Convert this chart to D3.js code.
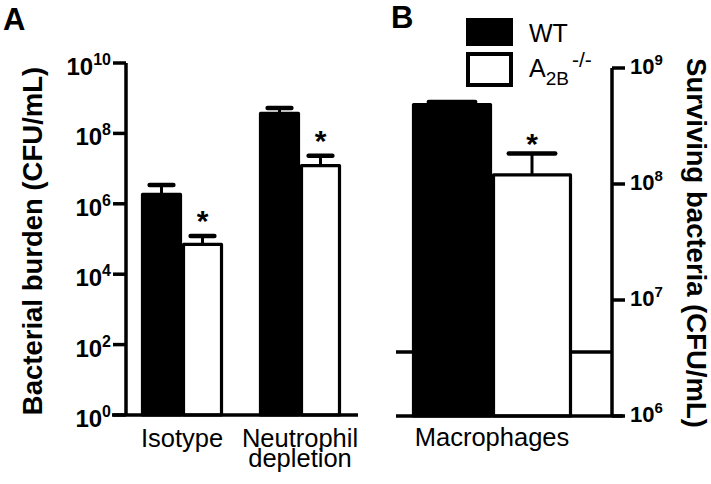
<!DOCTYPE html>
<html><head><meta charset="utf-8">
<script src="https://cdn.jsdelivr.net/npm/d3@7"></script>
<style>
html,body{margin:0;padding:0;background:#fff;}
svg{display:block;font-family:"Liberation Sans",Arial,Helvetica,sans-serif;}
</style></head>
<body>
<svg id="chart" width="711" height="484"></svg>
<script>
// ---- data ----
const seriesNames = ["WT", "A2B-/-"];
const groupsA = ["Isotype", "Neutrophil depletion"];
const wtA = [1.85e6, 3.7e8];
const wtASem = [1.55e6, 1.55e8];
const koA = [7.0e4, 1.22e7];
const koASem = [5.2e4, 1.11e7];
const sigA = [true, true];
const ticksA = [0, 2, 4, 6, 8, 10];

const groupsB = ["Macrophages"];
const wtB = [4.84e8];
const wtBSem = [2.6e7];
const koB = [1.2e8];
const koBSem = [6.3e7];
const sigB = [true];
const ticksB = [6, 7, 8, 9];
const detectionLimitB = 3.56e6;

// ---- setup ----
const svg = d3.select("#chart");
const FONT = "'Liberation Sans',Arial,Helvetica,sans-serif";

function drawPanel(opt) {
  const g = svg.append("g");
  const y = d3.scaleLog().domain(opt.domain).range([opt.y0, opt.y1]);
  const xg = d3.scaleBand().domain(opt.groups).range(opt.xRange).paddingInner(opt.padInner).paddingOuter(0);
  const xs = d3.scaleBand().domain(seriesNames).range([0, xg.bandwidth()]);
  const bw = xs.bandwidth();

  if (opt.limit) {
    g.append("line").attr("x1", opt.baseX[0]).attr("x2", opt.axisX)
      .attr("y1", y(opt.limit)).attr("y2", y(opt.limit))
      .attr("stroke", "#000").attr("stroke-width", 3.5);
  }

  const rows = [];
  opt.groups.forEach((grp, i) => {
    rows.push({grp, s: seriesNames[0], v: opt.wt[i], sem: opt.wtSem[i], fill: "#000", sig: false});
    rows.push({grp, s: seriesNames[1], v: opt.ko[i], sem: opt.koSem[i], fill: "#fff", sig: opt.sig[i]});
  });

  const baseY = opt.y0;
  rows.forEach(r => {
    const cx = xg(r.grp) + xs(r.s) + bw / 2;
    g.append("line").attr("x1", cx).attr("x2", cx)
      .attr("y1", y(r.v)).attr("y2", y(r.v + r.sem))
      .attr("stroke", "#000").attr("stroke-width", 3);
    g.append("line").attr("x1", cx - bw * 0.29).attr("x2", cx + bw * 0.29)
      .attr("y1", y(r.v + r.sem)).attr("y2", y(r.v + r.sem))
      .attr("stroke", "#000").attr("stroke-width", 4.5).attr("stroke-linecap", "round");
    if (r.sig) {
      g.append("text").attr("x", cx).attr("y", y(r.v + r.sem) - opt.starGap)
        .attr("text-anchor", "middle").attr("font-weight", "bold")
        .attr("font-size", 30).attr("font-family", FONT).text("*");
    }
  });
  rows.forEach(r => {
    g.append("rect")
      .attr("x", xg(r.grp) + xs(r.s) + 1.5).attr("width", bw - 3)
      .attr("y", y(r.v)).attr("height", baseY - y(r.v))
      .attr("fill", r.fill).attr("stroke", "#000").attr("stroke-width", 3.2)
      .attr("stroke-linejoin", "round");
  });

  g.append("line").attr("x1", opt.baseX[0]).attr("x2", opt.baseX[1])
    .attr("y1", baseY).attr("y2", baseY).attr("stroke", "#000").attr("stroke-width", 3.5);
  g.append("line").attr("x1", opt.axisX).attr("x2", opt.axisX)
    .attr("y1", opt.y1).attr("y2", opt.y0).attr("stroke", "#000").attr("stroke-width", 3.5);
  opt.ticks.forEach(e => {
    const ty = y(Math.pow(10, e));
    g.append("line").attr("x1", opt.axisX).attr("x2", opt.axisX + opt.tickDir * 13)
      .attr("y1", ty).attr("y2", ty).attr("stroke", "#000").attr("stroke-width", 3.5);
    const t = g.append("text")
      .attr("x", opt.axisX + opt.tickDir * opt.labelOff)
      .attr("y", ty + opt.labelDy)
      .attr("text-anchor", opt.tickDir < 0 ? "end" : "start")
      .attr("font-weight", "bold").attr("font-family", FONT).attr("font-size", opt.tickFont);
    t.append("tspan").text("10");
    t.append("tspan").attr("dy", -opt.supRaise).attr("font-size", opt.supFont).text(String(e));
  });

  opt.groups.forEach((grp, i) => {
    const cx = xg(grp) + xg.bandwidth() / 2;
    const t = g.append("text").attr("x", cx).attr("y", opt.catY)
      .attr("text-anchor", "middle").attr("font-size", 25.5).attr("font-family", FONT);
    opt.labelLines[i].forEach((ln, j) => {
      t.append("tspan").attr("x", cx).attr("dy", j === 0 ? 0 : 20).text(ln);
    });
  });
  return g;
}

drawPanel({
  groups: groupsA, wt: wtA, wtSem: wtASem, ko: koA, koSem: koASem, sig: sigA,
  domain: [1, 1e10], y0: 415, y1: 63,
  xRange: [141, 341], padInner: 0.305,
  baseX: [112, 358], axisX: 126, tickDir: -1, labelOff: 15, labelDy: 12,
  tickFont: 24, supFont: 16, supRaise: 10,
  ticks: ticksA, starGap: 5, catY: 447,
  labelLines: [["Isotype"], ["Neutrophil", "depletion"]]
});

drawPanel({
  groups: groupsB, wt: wtB, wtSem: wtBSem, ko: koB, koSem: koBSem, sig: sigB,
  domain: [1e6, 1e9], y0: 416, y1: 68, limit: detectionLimitB,
  xRange: [412, 572], padInner: 0,
  baseX: [396, 623], axisX: 612, tickDir: 1, labelOff: 18, labelDy: 6,
  tickFont: 22, supFont: 15, supRaise: 9,
  ticks: ticksB, starGap: 0, catY: 446,
  labelLines: [["Macrophages"]]
});

svg.append("text").attr("transform", "translate(42,241) rotate(-90)")
  .attr("text-anchor", "middle").attr("font-weight", "bold").attr("font-size", 27.5)
  .attr("font-family", FONT).text("Bacterial burden (CFU/mL)");
svg.append("text").attr("transform", "translate(687,243) rotate(90)")
  .attr("text-anchor", "middle").attr("font-weight", "bold").attr("font-size", 27.5)
  .attr("font-family", FONT).text("Surviving bacteria (CFU/mL)");

svg.append("text").attr("x", 3).attr("y", 30).attr("font-weight", "bold").attr("font-size", 31)
  .attr("font-family", FONT).text("A");
svg.append("text").attr("x", 391).attr("y", 28).attr("font-weight", "bold").attr("font-size", 31)
  .attr("font-family", FONT).text("B");

const leg = svg.append("g");
leg.append("rect").attr("x", 467).attr("y", 19).attr("width", 45).attr("height", 26)
  .attr("fill", "#000").attr("stroke", "#000").attr("stroke-width", 2);
leg.append("rect").attr("x", 468).attr("y", 54).attr("width", 43).attr("height", 31)
  .attr("fill", "#fff").attr("stroke", "#000").attr("stroke-width", 4);
leg.append("text").attr("x", 529).attr("y", 42).attr("font-size", 25).attr("font-family", FONT).text(seriesNames[0]);
const lt = leg.append("text").attr("x", 529).attr("y", 77).attr("font-size", 25).attr("font-family", FONT);
lt.append("tspan").text("A");
lt.append("tspan").attr("dy", 8).attr("font-size", 19).text("2B");
lt.append("tspan").attr("dy", -18).attr("dx", 3).attr("font-size", 21).text("-/-");
</script>
</body></html>
